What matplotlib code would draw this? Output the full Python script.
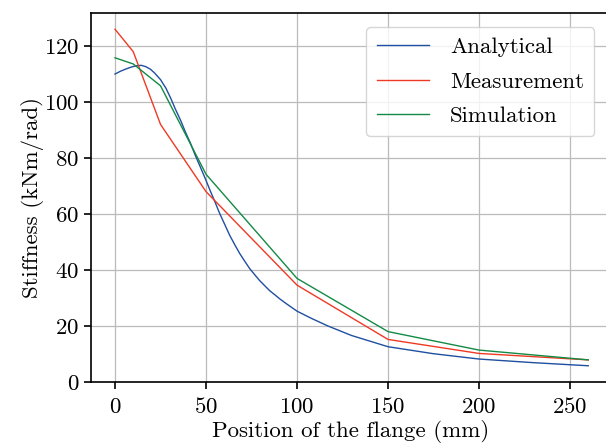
import matplotlib
matplotlib.use("Agg")
import matplotlib.pyplot as plt

plt.rcParams['font.family'] = 'cmr10'
plt.rcParams['mathtext.fontset'] = 'cm'
plt.rcParams['axes.formatter.use_mathtext'] = True

# analytical model
x_ana = [0, 3, 6, 9, 12, 14.5, 17, 19.5, 22, 25, 28, 30.5, 33, 36, 38.6, 41.5,
         44, 47, 50, 52.5, 55, 57.5, 60.4, 63, 65.9, 68.5, 71.4, 74, 76.9, 79.5,
         82.4, 85, 87.9, 90.5, 93.4, 100, 108, 117, 130, 150, 175, 200, 230, 260]
y_ana = [110, 111, 111.8, 112.5, 113, 113.1, 112.6, 111.7, 110.2, 108, 104.9,
         101.5, 97.7, 93.5, 89.4, 85.2, 81.1, 76.6, 72, 68, 64.2, 60.2, 56.1,
         52.4, 48.9, 45.9, 43, 40.5, 38.2, 36.2, 34.3, 32.6, 31.1, 29.7, 28.3,
         25.3, 22.7, 20, 16.6, 12.6, 10.1, 8.2, 6.9, 5.8]

# measured points
x_meas = [0, 10, 25, 50, 100, 150, 200, 260]
y_meas = [126, 118, 92, 68, 34.6, 15.2, 10.2, 7.9]

# simulation points
x_sim = [0, 10, 25, 50, 100, 150, 200, 260]
y_sim = [115.8, 113.6, 105.8, 74.2, 37.0, 18.0, 11.4, 7.9]

fig = plt.figure(figsize=(6.06, 4.44), dpi=100)
ax = fig.add_axes([91/606, 62/444, 520/606, 369/444])

ax.plot(x_ana, y_ana, color='#1f4fa0', lw=1.0, label='Analytical')
ax.plot(x_meas, y_meas, color='#ee3a24', lw=1.0, label='Measurement')
ax.plot(x_sim, y_sim, color='#138a45', lw=1.0, label='Simulation')

ax.set_xlim(-13.2, 272.5)
ax.set_ylim(0, 131.8)
ax.set_xticks([0, 50, 100, 150, 200, 250])
ax.set_yticks([0, 20, 40, 60, 80, 100, 120])
ax.grid(True, color='#bbbbbb', lw=0.9)
ax.set_axisbelow(True)
for s in ax.spines.values():
    s.set_linewidth(1.2)
ax.tick_params(labelsize=16.5, length=5, width=1.2)
ax.tick_params(axis='x', pad=6)

ax.set_xlabel('Position of the flange (mm)', fontsize=16.5, labelpad=2)
ax.set_ylabel('Stiffness (kNm/rad)', fontsize=16.5, labelpad=0)
ax.legend(loc='upper right', fontsize=16.5, frameon=True, fancybox=True,
          handlelength=2.3, handletextpad=0.9, borderpad=0.45, labelspacing=0.62,
          bbox_to_anchor=(0.99, 0.993), bbox_transform=ax.transAxes)

fig.savefig('out.png', dpi=100)
